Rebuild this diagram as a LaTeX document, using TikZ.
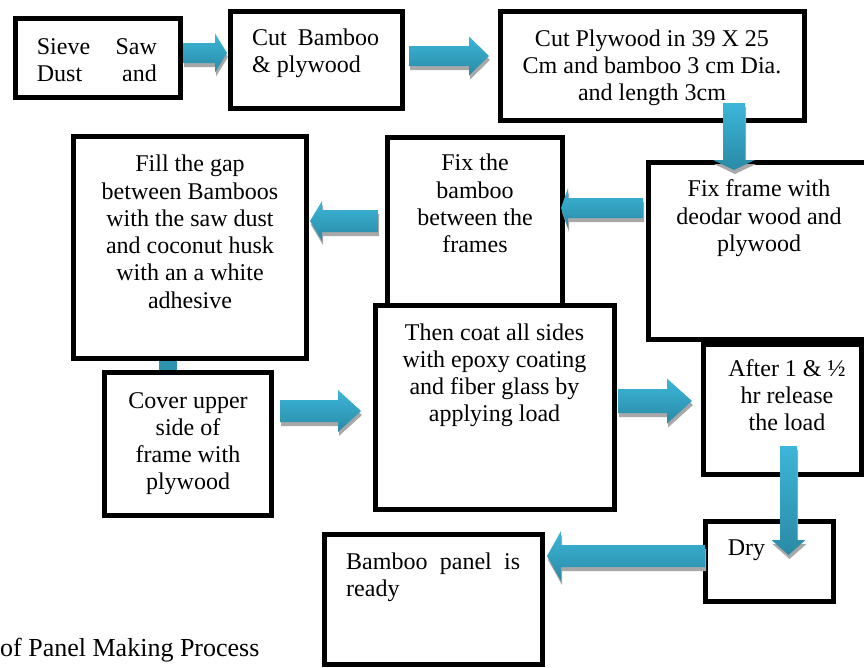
\documentclass[tikz,border=0pt]{standalone}
\usepackage{fontspec}
\setmainfont{Liberation Serif}
\definecolor{arrtop}{HTML}{3CB6D9}
\definecolor{arrbot}{HTML}{2A8AA5}
\definecolor{arrshadow}{HTML}{A8A8A8}
\definecolor{stripcol}{HTML}{2C94AF}
\tikzset{
  box/.style={draw=black, line width=5pt, fill=white, inner sep=0pt, outer sep=0pt, anchor=north west},
  txt/.style={font=\fontsize{24}{27.3}\selectfont, inner sep=0pt, align=center, anchor=base},
  ltxt/.style={txt, align=left, anchor=base west},
  shadowfill/.style={fill=arrshadow},
  arrshade/.style={top color=arrtop, bottom color=arrbot, draw=none},
}
% box: name, x1, y1, x2, y2 (centre line of border)
\newcommand\boxat[5]{\node[box, minimum width={#4-#2}, minimum height={#5-#3}] (#1) at (#2,#3) {};}
% horizontal block arrow: name, start, length, shaft half, head half, head length
\newcommand\harrow[6]{%
  \coordinate (#1) at #2;
  \begin{scope}[shift={(#1)}]
    \fill[shadowfill] (1,{4-#4}) -- ({1+#3-(#6)},{4-#4}) -- ({1+#3-(#6)},{4-#5}) -- ({1+#3},4) -- ({1+#3-(#6)},{4+#5}) -- ({1+#3-(#6)},{4+#4}) -- (1,{4+#4}) -- cycle;
    \shade[arrshade] (0,-#4) -- ({#3-(#6)},-#4) -- ({#3-(#6)},-#5) -- (#3,0) -- ({#3-(#6)},#5) -- ({#3-(#6)},#4) -- (0,#4) -- cycle;
  \end{scope}}
% vertical (downward) block arrow: name, start, length, shaft half, head half, head length
\newcommand\varrow[6]{%
  \coordinate (#1) at #2;
  \begin{scope}[shift={(#1)}]
    \fill[shadowfill] ({1-#4},4) -- ({1-#4},{4+#3-(#6)}) -- ({1-#5},{4+#3-(#6)}) -- (1,{4+#3}) -- ({1+#5},{4+#3-(#6)}) -- ({1+#4},{4+#3-(#6)}) -- ({1+#4},4) -- cycle;
    \shade[arrshade] (-#4,0) -- (-#4,{#3-(#6)}) -- (-#5,{#3-(#6)}) -- (0,#3) -- (#5,{#3-(#6)}) -- (#4,{#3-(#6)}) -- (#4,0) -- cycle;
  \end{scope}}
\begin{document}
\begin{tikzpicture}[x=1pt, y=-1pt]
\useasboundingbox (0,0) rectangle (864,667);
\clip (0,0) rectangle (864,667);
% hidden connector piece between "Fill the gap" and "Cover"
\coordinate (s1) at (159,356);
\coordinate (s2) at (177,374);
\fill[stripcol] (s1) rectangle (s2);
% boxes
\boxat{sieve}{15.5}{18.5}{180.5}{97.5}
\boxat{cutb}{230.5}{11.5}{402.5}{108.5}
\boxat{cutp}{500.5}{11.5}{804.5}{120.5}
\boxat{fixframe}{648}{162}{880}{339}
\boxat{fixbam}{387}{137}{562}{305}
\boxat{fill}{73}{136}{306}{358}
\boxat{cover}{104.5}{372}{271}{515}
\boxat{coat}{375}{305}{614}{509}
\boxat{after}{703}{344}{861}{474}
\boxat{dry}{705}{521}{833}{601}
\boxat{panel}{324.5}{534.5}{542}{664}
% texts (anchored at the baseline of the last line)
\node[ltxt] (tsieve) at (36.7,81.5) {\makebox[120pt][s]{Sieve Saw}\\\makebox[120pt][s]{Dust and}};
\node[ltxt] (tcutb) at (252,72.8) {Cut\hspace{5pt} Bamboo\\\& plywood};
\node[txt] (tcutp) at (652,100.6) {Cut Plywood in 39 X 25\\Cm and bamboo 3 cm Dia.\\and length 3cm};
\node[txt] (tfixframe) at (759,251.3) {Fix frame with\\deodar wood and\\plywood};
\node[txt] (tfixbam) at (475,252.6) {Fix the\\bamboo\\between the\\frames};
\node[txt] (tfill) at (190,308.2) {Fill the gap\\between Bamboos\\with the saw dust\\and coconut husk\\with an a white\\adhesive};
\node[txt] (tcover) at (188,489.9) {Cover upper\\side of\\frame with\\plywood};
\node[txt] (tcoat) at (494.5,421.9) {Then coat all sides\\with epoxy coating\\and fiber glass by\\applying load};
\node[txt] (tafter) at (787,430.6) {After 1 \& ½\\hr release\\the load};
\node[ltxt] (tdry) at (727.7,555) {Dry};
\node[ltxt] (tpanel) at (346,596.3) {\makebox[174pt][s]{Bamboo panel is}\\ready};
\node[ltxt, font=\fontsize{26}{30}\selectfont] (caption) at (0,656) {of Panel Making Process};
% block arrows
\harrow{a1}{(183,53)}{44}{10}{19.5}{12}
\harrow{a2}{(409,56)}{80}{10}{19.5}{20}
\varrow{a3}{(734,103)}{67}{11}{21}{10}
\harrow{a4}{(643,208)}{-82}{10}{20}{-7}
\harrow{a5}{(378,221)}{-68}{11}{20}{-12}
\harrow{a6}{(280,411)}{81}{11}{21}{23}
\harrow{a7}{(618,401)}{74}{12}{22.5}{25}
\varrow{a8}{(788.5,446)}{109}{8.5}{17}{15}
\harrow{a9}{(705,556)}{-158}{11}{25}{-14}
\end{tikzpicture}
\end{document}
